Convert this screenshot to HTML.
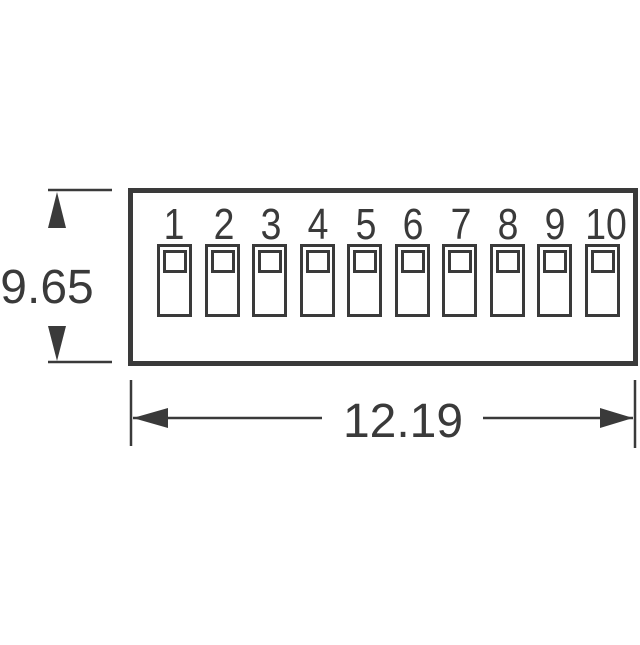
<!DOCTYPE html>
<html><head><style>body{margin:0;background:#fff}</style></head><body>
<svg width="640" height="640" viewBox="0 0 640 640" xmlns="http://www.w3.org/2000/svg" font-family="Liberation Sans, sans-serif" fill="#3a3a3a">
<rect width="640" height="640" fill="#fff"/>
<rect x="130.5" y="190.5" width="505" height="173" fill="none" stroke="#3a3a3a" stroke-width="5"/>
<g fill="#fff" stroke="#3a3a3a" stroke-width="3">
<rect x="158.5" y="245.5" width="32" height="70"/><rect x="164.5" y="251.5" width="21" height="20"/>
<rect x="206.5" y="245.5" width="32" height="70"/><rect x="212.5" y="251.5" width="21" height="20"/>
<rect x="253.5" y="245.5" width="32" height="70"/><rect x="259.5" y="251.5" width="21" height="20"/>
<rect x="301.5" y="245.5" width="32" height="70"/><rect x="307.5" y="251.5" width="21" height="20"/>
<rect x="348.5" y="245.5" width="32" height="70"/><rect x="354.5" y="251.5" width="21" height="20"/>
<rect x="396.5" y="245.5" width="32" height="70"/><rect x="402.5" y="251.5" width="21" height="20"/>
<rect x="443.5" y="245.5" width="32" height="70"/><rect x="449.5" y="251.5" width="21" height="20"/>
<rect x="491.5" y="245.5" width="32" height="70"/><rect x="497.5" y="251.5" width="21" height="20"/>
<rect x="538.5" y="245.5" width="32" height="70"/><rect x="544.5" y="251.5" width="21" height="20"/>
<rect x="586.5" y="245.5" width="32" height="70"/><rect x="592.5" y="251.5" width="21" height="20"/>
</g>
<g font-size="44" text-anchor="middle">
<text transform="translate(174,239) scale(0.85,1)">1</text>
<text transform="translate(224,239) scale(0.85,1)">2</text>
<text transform="translate(271,239) scale(0.85,1)">3</text>
<text transform="translate(318,239) scale(0.85,1)">4</text>
<text transform="translate(366,239) scale(0.85,1)">5</text>
<text transform="translate(413,239) scale(0.85,1)">6</text>
<text transform="translate(461,239) scale(0.85,1)">7</text>
<text transform="translate(508,239) scale(0.85,1)">8</text>
<text transform="translate(555,239) scale(0.85,1)">9</text>
<text transform="translate(606,239) scale(0.85,1)">10</text>
</g>
<g stroke="#3a3a3a" stroke-width="2.5">
<line x1="48" y1="190" x2="112" y2="190"/><line x1="48" y1="362" x2="112" y2="362"/>
<line x1="131" y1="380" x2="131" y2="446"/><line x1="635" y1="380" x2="635" y2="448"/>
<line x1="133" y1="418" x2="322" y2="418"/><line x1="483" y1="418" x2="633" y2="418"/>
</g>
<polygon points="57,192 48,228 66,228"/>
<polygon points="57,361 48,326 66,326"/>
<polygon points="133,418 168,408 168,428"/>
<polygon points="633,418 600,408 600,428"/>
<text x="47" y="303" font-size="48" text-anchor="middle">9.65</text>
<text x="403" y="437" font-size="48" text-anchor="middle">12.19</text>
</svg>
</body></html>
